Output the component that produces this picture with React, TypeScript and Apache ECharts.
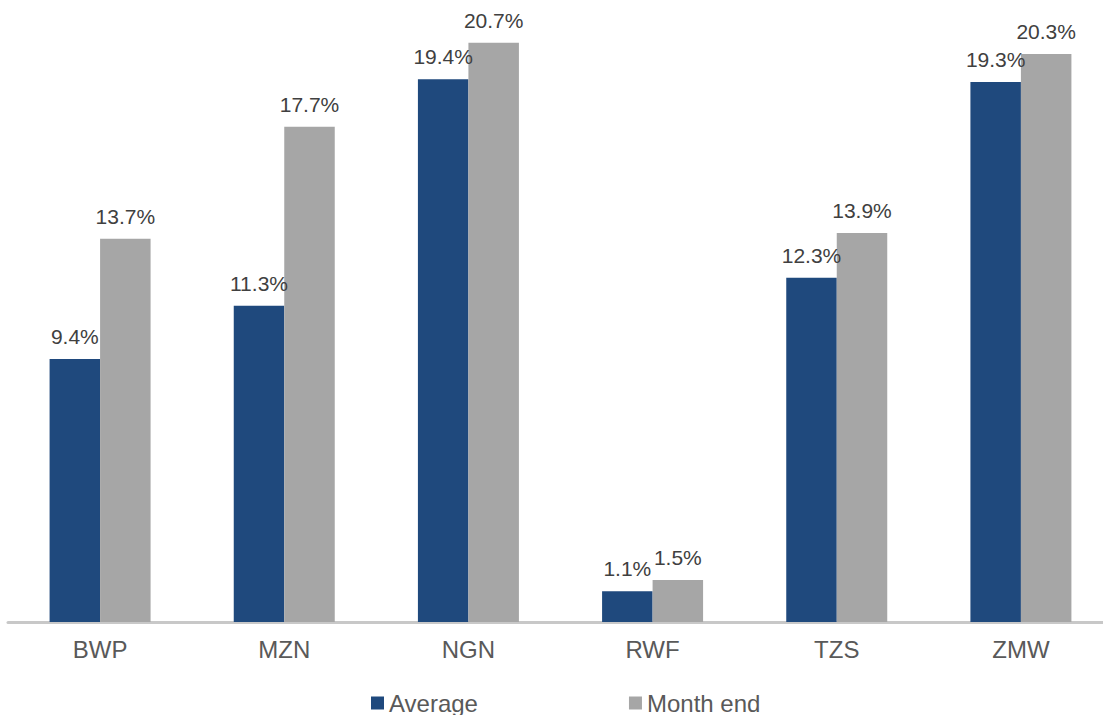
import React, { useEffect, useRef } from "react";
import * as echarts from "echarts";

const categories = ["BWP", "MZN", "NGN", "RWF", "TZS", "ZMW"];
const averageValues = [9.4, 11.3, 19.4, 1.1, 12.3, 19.3];
const monthEndValues = [13.7, 17.7, 20.7, 1.5, 13.9, 20.3];
const seriesNames = ["Average", "Month end"];

const FONT = "'Liberation Sans', Arial, sans-serif";

export default function App() {
  const ref = useRef<HTMLDivElement>(null);
  useEffect(() => {
    if (!ref.current) return;
    const chart = echarts.init(ref.current, null, { renderer: "svg" });
    const label = {
      show: true,
      position: "top",
      distance: 12,
      color: "#404040",
      fontSize: 21,
      fontFamily: FONT,
      formatter: (p: any) => p.value.toFixed(1) + "%",
    };
    chart.setOption({
      animation: false,
      grid: {
        left: 8,
        width: 1105,
        top: 34.4,
        height: 587.6,
        containLabel: false,
        outerBoundsMode: "none",
      },
      legend: {
        left: 371,
        top: 691,
        padding: 0,
        itemWidth: 13,
        itemHeight: 13,
        itemGap: 151,
        icon: "rect",
        textStyle: { fontSize: 24, color: "#595959", fontFamily: FONT },
        data: seriesNames,
      },
      xAxis: {
        type: "category",
        data: categories,
        axisLine: { lineStyle: { color: "#C8C8C8", width: 3 } },
        axisTick: { show: false },
        axisLabel: { fontSize: 24, color: "#595959", fontFamily: FONT, margin: 15 },
      },
      yAxis: {
        type: "value",
        min: 0,
        max: 21,
        show: false,
        splitLine: { show: false },
      },
      series: [
        {
          name: seriesNames[0],
          type: "bar",
          data: averageValues,
          barWidth: 50.5,
          barGap: "0%",
          itemStyle: { color: "#1F497D" },
          label,
        },
        {
          name: seriesNames[1],
          type: "bar",
          data: monthEndValues,
          barWidth: 50.5,
          barGap: "0%",
          itemStyle: { color: "#A6A6A6" },
          label,
        },
      ],
    });
    return () => chart.dispose();
  }, []);
  return (
    <div
      ref={ref}
      style={{ position: "absolute", left: 0, top: 0, width: 1103, height: 715 }}
    />
  );
}
